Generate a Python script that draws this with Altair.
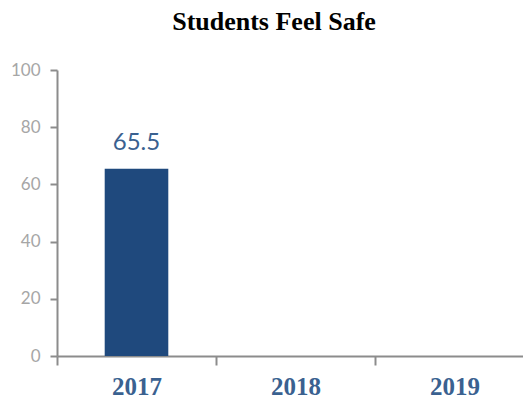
import altair as alt
import pandas as pd

years = ["2017", "2018", "2019"]
values = [65.5, None, None]
labels = ["65.5", "", ""]

df = pd.DataFrame({"year": years, "value": values, "label": labels})

base = alt.Chart(df)

x_enc = alt.X(
    "year:N",
    sort=years,
    scale=alt.Scale(paddingInner=0, paddingOuter=0, range=[0, 477]),
    axis=alt.Axis(
        title=None,
        labelAngle=0,
        labelFont="Liberation Serif",
        labelFontWeight="bold",
        labelFontSize=25,
        labelColor="#3a6190",
        labelPadding=9,
        tickBand="extent",
        tickSize=9,
        tickColor="#8c8c8c",
        tickWidth=2,
        domainColor="#8c8c8c",
        domainWidth=2,
    ),
)

y_enc = alt.Y(
    "value:Q",
    scale=alt.Scale(domain=[0, 100]),
    axis=alt.Axis(
        title=None,
        values=[0, 20, 40, 60, 80, 100],
        grid=False,
        labelFont="Lato",
        labelFontSize=17,
        labelColor="#a6a6a6",
        labelPadding=10,
        tickSize=7,
        tickColor="#8c8c8c",
        tickWidth=2,
        domainColor="#8c8c8c",
        domainWidth=2,
    ),
)

bars = base.mark_bar(color="#1f497d", width=alt.RelativeBandSize(0.4)).encode(x=x_enc, y=y_enc)

text = base.mark_text(
    baseline="bottom",
    dy=-14,
    font="Lato",
    fontSize=24,
    color="#3a6190",
).encode(x=alt.X("year:N", sort=years), y="value:Q", text="label:N")

chart = (
    alt.layer(bars, text)
    .properties(
        width=466,
        height=286,
        autosize=alt.AutoSizeParams(type="none"),
        padding={"left": 49, "top": 62, "right": 0, "bottom": 46},
        title=alt.TitleParams(
            "Students Feel Safe",
            font="Liberation Serif",
            fontSize=26,
            fontWeight="bold",
            color="#000000",
            anchor="middle",
            dx=-16,
            offset=26,
        ),
    )
    .configure_view(stroke=None)
)

chart.save("out.html", embed_options={"renderer": "svg", "actions": False})
